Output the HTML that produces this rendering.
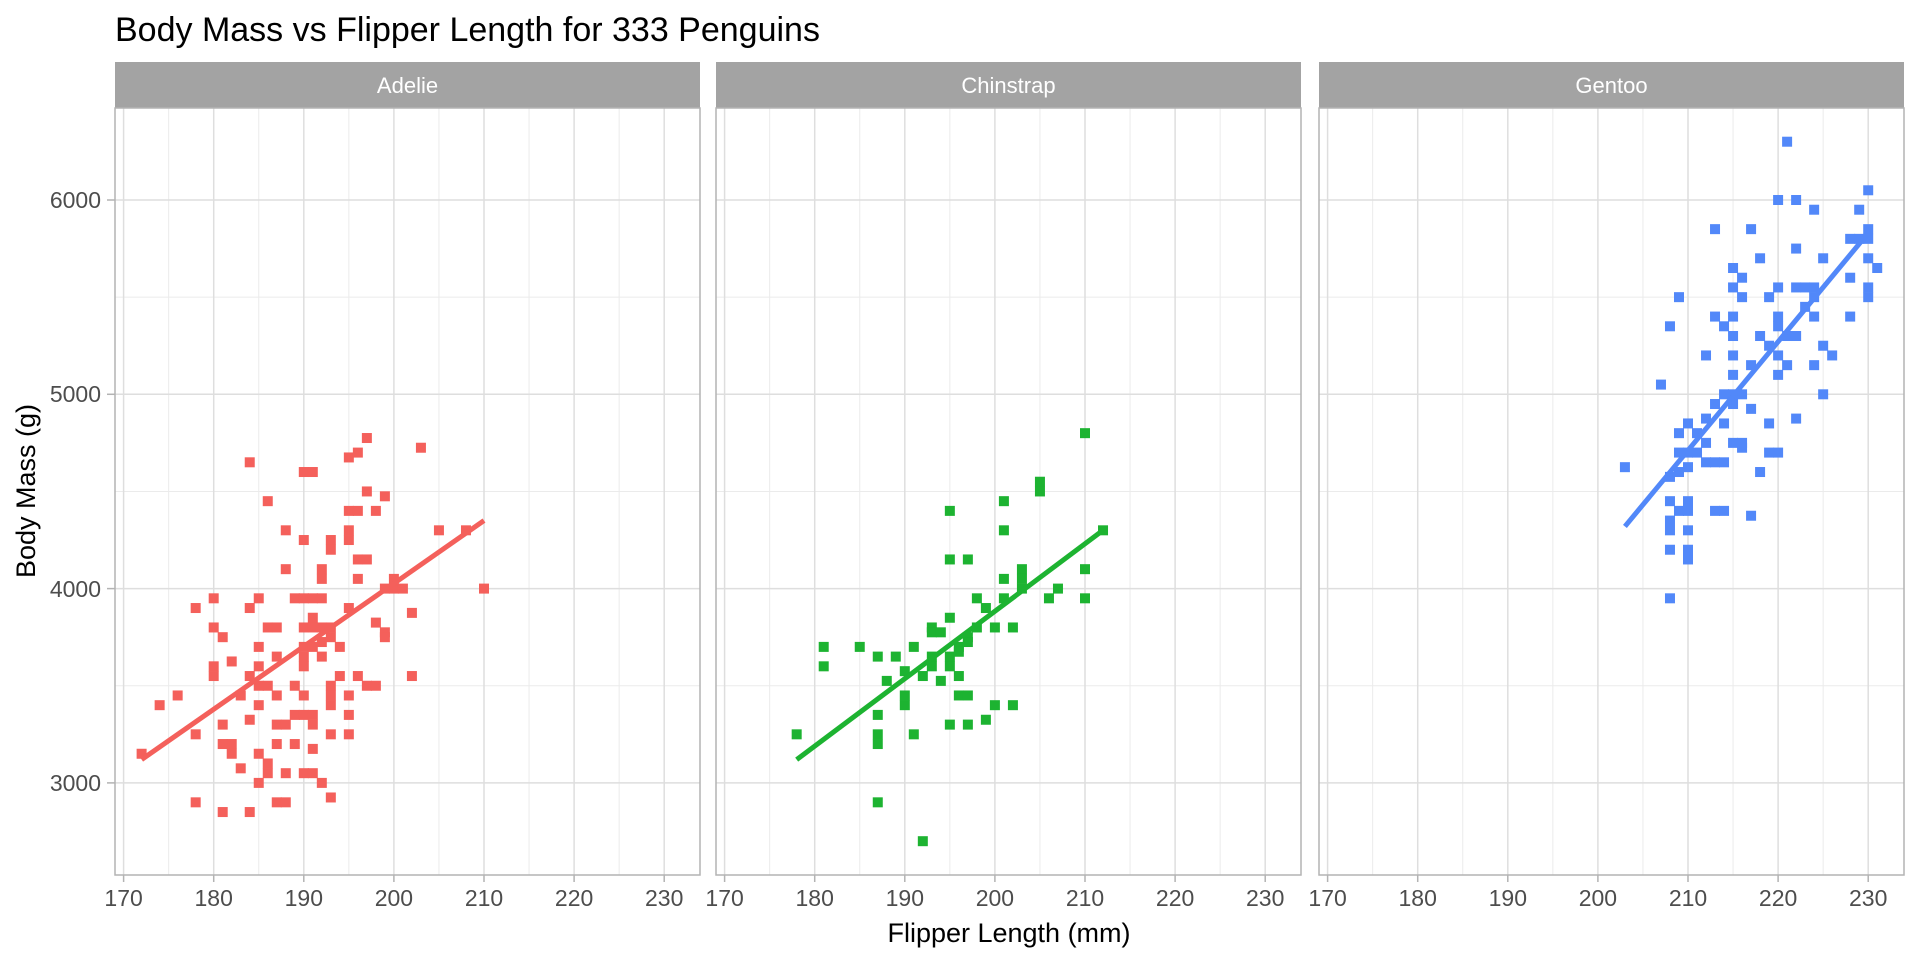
<!DOCTYPE html>
<html><head><meta charset="utf-8"><style>
body{margin:0;background:#fff;width:1920px;height:960px;overflow:hidden}
svg{font-family:"Liberation Sans",Arial,sans-serif}
</style></head><body>
<svg id="s" width="1920" height="960" xmlns="http://www.w3.org/2000/svg">
<text x="115" y="41" font-size="34" fill="#000">Body Mass vs Flipper Length for 333 Penguins</text>
<g font-size="23" fill="#4d4d4d" text-anchor="end">
<text x="101" y="208">6000</text><text x="101" y="402">5000</text><text x="101" y="597">4000</text><text x="101" y="791">3000</text>
</g>
<text transform="translate(35,491) rotate(-90)" font-size="27" text-anchor="middle" fill="#000">Body Mass (g)</text>
<text x="1009" y="942" font-size="27" text-anchor="middle" fill="#000">Flipper Length (mm)</text>
<g id="panels"></g>
</svg>
<script>
(function(){
const NS="http://www.w3.org/2000/svg";
const g=document.getElementById('panels');
function el(t,a,p){const e=document.createElementNS(NS,t);for(const k in a)e.setAttribute(k,a[k]);(p||g).appendChild(e);return e;}
const lefts=[115,716,1319],W=585,T0=108,B0=875;
const names=["Adelie","Chinstrap","Gentoo"];
const ptcols=["#F4605B","#1DB331","#5288F9"];
function X(p,v){return lefts[p]+8.6+(v-170)*9.01;}
function Y(v){return 200+(6000-v)*0.1943;}
const data=[
[[172,3150],[174,3400],[176,3450],[178,3900],[178,3250],[178,2900],[180,3950],[180,3800],[180,3600],[180,3550],[181,3750],[181,3300],[181,3200],[181,2850],[182,3625],[182,3200],[182,3150],[183,3450],[183,3075],[184,3900],[184,3325],[184,2850],[184,3550],[184,4650],[185,3950],[185,3700],[185,3600],[185,3500],[185,3400],[185,3150],[185,3000],[186,4450],[186,3800],[186,3500],[186,3100],[186,3050],[187,3800],[187,3650],[187,3450],[187,3300],[187,3200],[187,2900],[188,4300],[188,4100],[188,3300],[188,3050],[188,2900],[189,3950],[189,3500],[189,3350],[189,3200],[190,3950],[190,3800],[190,3700],[190,3650],[190,3600],[190,3450],[190,3350],[190,3050],[190,4600],[190,4250],[191,4600],[191,3950],[191,3850],[191,3800],[191,3700],[191,3350],[191,3300],[191,3175],[191,3050],[192,3950],[192,3725],[192,3650],[192,3800],[192,4100],[192,4050],[192,3000],[193,4250],[193,4200],[193,3800],[193,3750],[193,3500],[193,3450],[193,3400],[193,3250],[193,2925],[194,3700],[194,3550],[195,4400],[195,4300],[195,4250],[195,4675],[195,3900],[195,3450],[195,3350],[195,3250],[196,4700],[196,4400],[196,4150],[196,3550],[196,4050],[197,4775],[197,4500],[197,4150],[197,3500],[198,4400],[198,3825],[198,3500],[199,4475],[199,4000],[199,3775],[199,3750],[200,4050],[200,4000],[201,4000],[202,3875],[202,3550],[203,4725],[205,4300],[208,4300],[210,4000]],
[[178,3250],[181,3700],[181,3600],[185,3700],[187,3650],[187,3350],[187,3250],[187,3200],[187,2900],[188,3525],[189,3650],[190,3575],[190,3450],[190,3400],[191,3700],[191,3250],[192,3550],[192,2700],[193,3800],[193,3775],[193,3650],[193,3600],[194,3775],[194,3525],[195,4400],[195,4150],[195,3850],[195,3650],[195,3600],[195,3300],[196,3700],[196,3550],[196,3450],[196,3675],[197,4150],[197,3750],[197,3725],[197,3450],[197,3300],[198,3950],[198,3800],[199,3900],[199,3325],[200,3800],[200,3400],[201,4450],[201,4300],[201,4050],[201,3950],[202,3800],[202,3400],[203,4100],[203,4050],[203,4000],[205,4550],[205,4500],[206,3950],[207,4000],[210,4800],[210,4100],[210,3950],[212,4300]],
[[203,4625],[207,5050],[208,5350],[208,4575],[208,4450],[208,4350],[208,4300],[208,4200],[208,3950],[209,5500],[209,4800],[209,4700],[209,4600],[209,4400],[210,4850],[210,4700],[210,4625],[210,4450],[210,4400],[210,4300],[210,4200],[210,4150],[211,4800],[211,4700],[212,5200],[212,4875],[212,4750],[212,4650],[213,5850],[213,5400],[213,4950],[213,4650],[213,4400],[214,5350],[214,5000],[214,4850],[214,4650],[214,4400],[215,5650],[215,5550],[215,5400],[215,5300],[215,5200],[215,5100],[215,5000],[215,4950],[215,4750],[216,5600],[216,5500],[216,5000],[216,4750],[216,4725],[217,5850],[217,5150],[217,4925],[217,4375],[218,5700],[218,5300],[218,4600],[219,5500],[219,5250],[219,4850],[219,4700],[220,6000],[220,5550],[220,5400],[220,5350],[220,5200],[220,5100],[220,4700],[221,6300],[221,5300],[221,5150],[222,6000],[222,5750],[222,5550],[222,5300],[222,4875],[223,5550],[223,5450],[224,5950],[224,5550],[224,5500],[224,5400],[224,5150],[225,5700],[225,5250],[225,5000],[226,5200],[228,5800],[228,5600],[228,5400],[229,5950],[229,5800],[230,6050],[230,5850],[230,5800],[230,5700],[230,5550],[230,5500],[231,5650]]
];
const lines=[[172,3120,210,4350],[178,3120,212,4300],[203,4320,230,5830]];
for(let p=0;p<3;p++){
 const L=lefts[p];
 el('rect',{x:L,y:62,width:W,height:46,fill:'#a3a3a3'});
 const t=el('text',{x:L+W/2,y:93,'font-size':22,fill:'#fff','text-anchor':'middle'});t.textContent=names[p];
 for(let v=175;v<=235;v+=10){const x=X(p,v);if(x<L+W)el('line',{x1:x,x2:x,y1:T0,y2:B0,stroke:'#ebebeb','stroke-width':1});}
 for(let v=2500;v<=6500;v+=1000){const y=Y(v);if(y>T0&&y<B0)el('line',{x1:L,x2:L+W,y1:y,y2:y,stroke:'#ebebeb','stroke-width':1});}
 for(let v=170;v<=230;v+=10){const x=X(p,v);el('line',{x1:x,x2:x,y1:T0,y2:B0,stroke:'#dedede','stroke-width':1.5});
   el('line',{x1:x,x2:x,y1:B0,y2:B0+7,stroke:'#b3b3b3','stroke-width':1.5});
   const tt=el('text',{x:x,y:906,'font-size':23,fill:'#4d4d4d','text-anchor':'middle'});tt.textContent=v;}
 for(let v=3000;v<=6000;v+=1000){const y=Y(v);el('line',{x1:L,x2:L+W,y1:y,y2:y,stroke:'#dedede','stroke-width':1.5});}
 for(const [a,b] of data[p]) el('rect',{x:X(p,a)-5,y:Y(b)-5,width:10,height:10,fill:ptcols[p]});
 const l=lines[p];
 el('line',{x1:X(p,l[0]),y1:Y(l[1]),x2:X(p,l[2]),y2:Y(l[3]),stroke:ptcols[p],'stroke-width':5});
 el('rect',{x:L,y:T0,width:W,height:B0-T0,fill:'none',stroke:'#b3b3b3','stroke-width':1.5});
}
for(let v=3000;v<=6000;v+=1000){const y=Y(v);el('line',{x1:107,x2:115,y1:y,y2:y,stroke:'#b3b3b3','stroke-width':1.5});}
})();
</script>
</body></html>
